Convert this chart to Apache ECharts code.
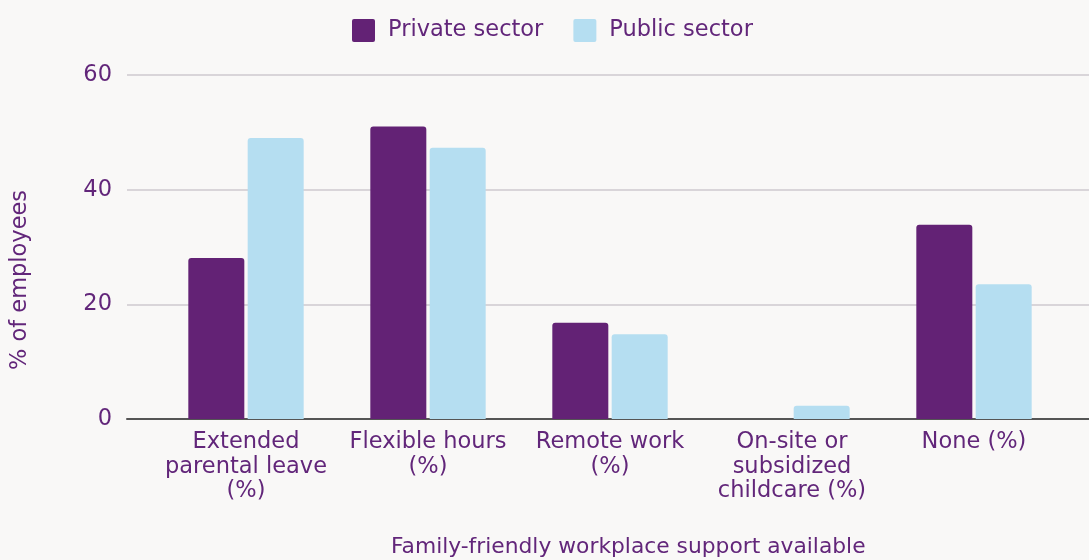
<!DOCTYPE html>
<html>
<head>
<meta charset="utf-8">
<script src="https://cdn.jsdelivr.net/npm/echarts@6/dist/echarts.min.js"></script>
<style>
  html, body { margin: 0; padding: 0; background: #f9f8f7; }
  #chart { width: 1089px; height: 560px; }
</style>
</head>
<body>
<div id="chart"></div>
<script>
// Share of employees with each family-friendly support, by sector
const categories = [
  'Extended\nparental leave\n(%)',
  'Flexible hours\n(%)',
  'Remote work\n(%)',
  'On-site or\nsubsidized\nchildcare (%)',
  'None (%)'
];
const privateSector = [28.1, 51.0, 16.8, 0, 33.9];
const publicSector = [49.0, 47.3, 14.8, 2.3, 23.5];
const yTicks = [0, 20, 40, 60];

const textColor = '#62267a';
const font = 'DejaVu Sans, Verdana, sans-serif';
const fs = 22.5;
// square legend marker with slightly softened corners
const squareIcon = 'path://M2,0H21A2,2 0 0 1 23,2V21A2,2 0 0 1 21,23H2A2,2 0 0 1 0,21V2A2,2 0 0 1 2,0Z';

const chart = echarts.init(document.getElementById('chart'), null, { renderer: 'canvas' });
chart.setOption({
  backgroundColor: '#f9f8f7',
  animation: false,
  textStyle: { fontFamily: font, color: textColor },
  legend: {
    top: 14,
    left: 347,
    itemWidth: 23,
    itemHeight: 23,
    itemGap: 30,
    icon: squareIcon,
    textStyle: { fontSize: fs, color: textColor, fontFamily: font, padding: [0, 0, 0, 8] },
    data: ['Private sector', 'Public sector']
  },
  title: {
    text: 'Family-friendly workplace support available',
    left: 386,
    top: 531,
    textStyle: { fontSize: 21.8, fontWeight: 'normal', color: textColor, fontFamily: font }
  },
  // y-axis caption, drawn rotated beside the tick labels
  graphic: [{
    type: 'text',
    x: 20,
    y: 280,
    rotation: Math.PI / 2,
    style: {
      text: '% of employees',
      fontSize: fs,
      fontFamily: font,
      fill: textColor,
      align: 'center',
      verticalAlign: 'middle'
    }
  }],
  grid: [
    { left: 127, right: 0, top: 75, bottom: 141 },
    { left: 155, right: 24, top: 75, bottom: 141 }
  ],
  xAxis: [
    {
      gridIndex: 0, type: 'value', min: 0, max: 1,
      axisLine: { show: true, lineStyle: { color: '#555555', width: 2 } },
      axisTick: { show: false }, axisLabel: { show: false }, splitLine: { show: false }
    },
    {
      gridIndex: 1, type: 'category', data: categories,
      axisLine: { show: false }, axisTick: { show: false },
      axisLabel: {
        interval: 0, margin: 11, fontSize: fs, lineHeight: 24.5,
        color: textColor, fontFamily: font, align: 'center'
      }
    }
  ],
  yAxis: [
    {
      gridIndex: 0, type: 'value', min: 0, max: 60, interval: 20,
      axisLine: { show: false }, axisTick: { show: false },
      axisLabel: {
        fontSize: fs, margin: 15, color: textColor, fontFamily: font,
        formatter: v => (yTicks.includes(v) ? String(v) : '')
      },
      splitLine: { show: true, lineStyle: { color: '#d9d5d9', width: 2 } }
    },
    {
      gridIndex: 1, type: 'value', min: 0, max: 60, interval: 20, show: false,
      splitLine: { show: false }
    }
  ],
  series: [
    {
      name: 'Private sector', type: 'bar', xAxisIndex: 1, yAxisIndex: 1,
      data: privateSector, barWidth: 56, barGap: '6%',
      itemStyle: { color: '#632275', borderRadius: [3, 3, 0, 0] }
    },
    {
      name: 'Public sector', type: 'bar', xAxisIndex: 1, yAxisIndex: 1,
      data: publicSector, barWidth: 56,
      itemStyle: { color: '#b5def1', borderRadius: [3, 3, 0, 0] }
    }
  ]
});
</script>
</body>
</html>
